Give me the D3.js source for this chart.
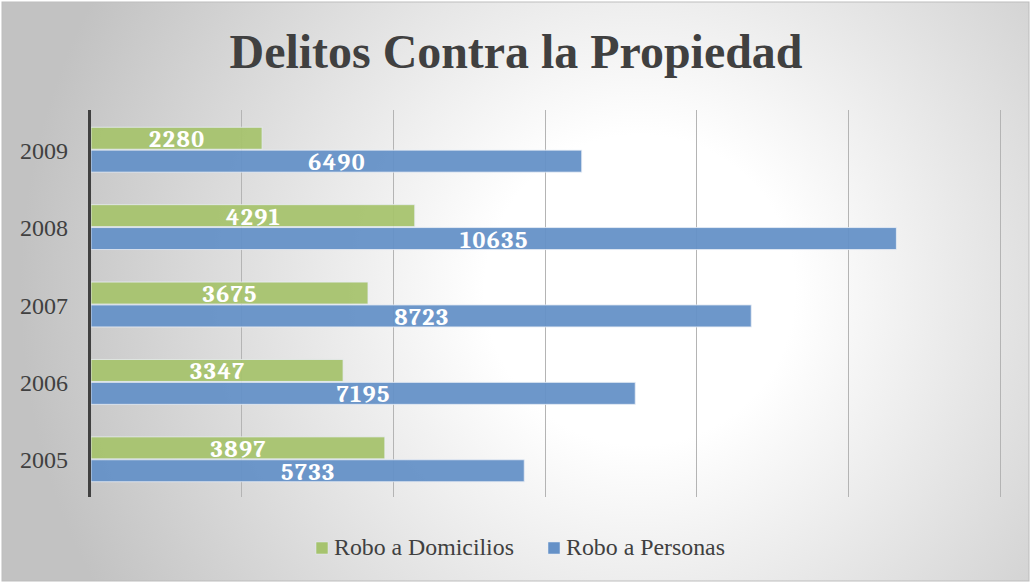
<!DOCTYPE html>
<html><head><meta charset="utf-8">
<script src="https://cdn.jsdelivr.net/npm/d3@7/dist/d3.min.js"></script>
<style>html,body{margin:0;padding:0;background:#fff;}svg{display:block;}</style>
</head><body>
<script>
const years = ["2009", "2008", "2007", "2006", "2005"];
const domicilios = [2280, 4291, 3675, 3347, 3897];
const personas = [6490, 10635, 8723, 7195, 5733];
const seriesNames = ["Robo a Domicilios", "Robo a Personas"];
const seriesColors = ["#a6c36e", "#6591c7"];
const xTicks = [0, 2000, 4000, 6000, 8000, 10000, 12000];
const title = "Delitos Contra la Propiedad";

const SERIF = "'Liberation Serif','Times New Roman',serif";
const LABEL_FONT = "Caladea,Cambria,'DejaVu Serif',serif";

const W = 1030, H = 582;
const svg = d3.select("body").append("svg").attr("width", W).attr("height", H);
const defs = svg.append("defs");
const grad = defs.append("radialGradient").attr("id", "bg")
  .attr("gradientUnits", "userSpaceOnUse")
  .attr("cx", 640).attr("cy", 290).attr("r", 620);
grad.append("stop").attr("offset", "0%").attr("stop-color", "#ffffff");
grad.append("stop").attr("offset", "25%").attr("stop-color", "#ffffff");
grad.append("stop").attr("offset", "100%").attr("stop-color", "#c2c2c2");

svg.append("rect").attr("x", 0).attr("y", 0).attr("width", W).attr("height", H).attr("fill", "#ffffff");
svg.append("rect").attr("x", 2).attr("y", 2).attr("width", W - 3).attr("height", H - 3)
  .attr("fill", "url(#bg)").attr("stroke", "#bdbdbd").attr("stroke-width", 1);

function fitWidth(sel, target) {
  const w = sel.node().getComputedTextLength();
  if (w > 0) {
    const fs = parseFloat(sel.attr("font-size"));
    sel.attr("font-size", (fs * target / w).toFixed(2));
  }
}

const t = svg.append("text").attr("x", 516).attr("y", 68).attr("text-anchor", "middle")
  .attr("font-family", SERIF).attr("font-weight", "bold")
  .attr("font-size", 48).attr("fill", "#404040").text(title);
fitWidth(t, 573);

const plotTop = 110, plotBottom = 497;
const x = d3.scaleLinear().domain([0, 12000]).range([89, 1000]);
const y0 = d3.scaleBand().domain(years).range([plotTop + 1, plotBottom + 1]).paddingInner(0.42).paddingOuter(0.21);
const y1 = d3.scaleBand().domain([0, 1]).range([0, y0.bandwidth()]).paddingInner(0.04);

svg.append("g").selectAll("line").data(xTicks.slice(1)).join("line")
  .attr("x1", d => Math.round(x(d)) + 0.5).attr("x2", d => Math.round(x(d)) + 0.5)
  .attr("y1", plotTop).attr("y2", plotBottom)
  .attr("stroke", "#b4b4b4").attr("stroke-width", 1);

const rows = years.map((yr, i) => ({ yr, vals: [domicilios[i], personas[i]] }));
const g = svg.append("g");
rows.forEach(r => {
  r.vals.forEach((v, k) => {
    const by = y0(r.yr) + y1(k);
    const bh = y1.bandwidth();
    g.append("rect").attr("x", x(0) + 2).attr("y", by).attr("width", x(v) - x(0) - 2).attr("height", bh)
      .attr("fill", seriesColors[k]).attr("fill-opacity", 0.95)
      .attr("stroke", "#e8eef5").attr("stroke-opacity", 0.8).attr("stroke-width", 1);
    g.append("text").attr("x", (x(0) + 2 + x(v)) / 2 + 0.8).attr("y", by + bh - 2)
      .attr("text-anchor", "middle")
      .attr("font-family", LABEL_FONT).attr("font-weight", "bold").attr("font-size", 24)
      .attr("letter-spacing", 1.5)
      .attr("fill", "#ffffff").text(v);
  });
});

svg.append("line").attr("x1", 89.5).attr("x2", 89.5).attr("y1", plotTop).attr("y2", plotBottom)
  .attr("stroke", "#404040").attr("stroke-width", 3);

svg.append("g").selectAll("text").data(years).join("text")
  .attr("x", 68).attr("y", d => y0(d) + y0.bandwidth() / 2 + 9)
  .attr("text-anchor", "end")
  .attr("font-family", SERIF).attr("font-size", 23)
  .attr("fill", "#404040").text(d => d)
  .each(function () { fitWidth(d3.select(this), 48); });

const legX = [316, 548];
const legW = [180, 159];
seriesNames.forEach((n, k) => {
  svg.append("rect").attr("x", legX[k]).attr("y", 542).attr("width", 12).attr("height", 12)
    .attr("fill", seriesColors[k]).attr("stroke", "#e8eef5").attr("stroke-width", 0.5);
  const lt = svg.append("text").attr("x", legX[k] + 18).attr("y", 555)
    .attr("font-family", SERIF).attr("font-size", 23)
    .attr("fill", "#404040").text(n);
  fitWidth(lt, legW[k]);
});
</script>
</body></html>
